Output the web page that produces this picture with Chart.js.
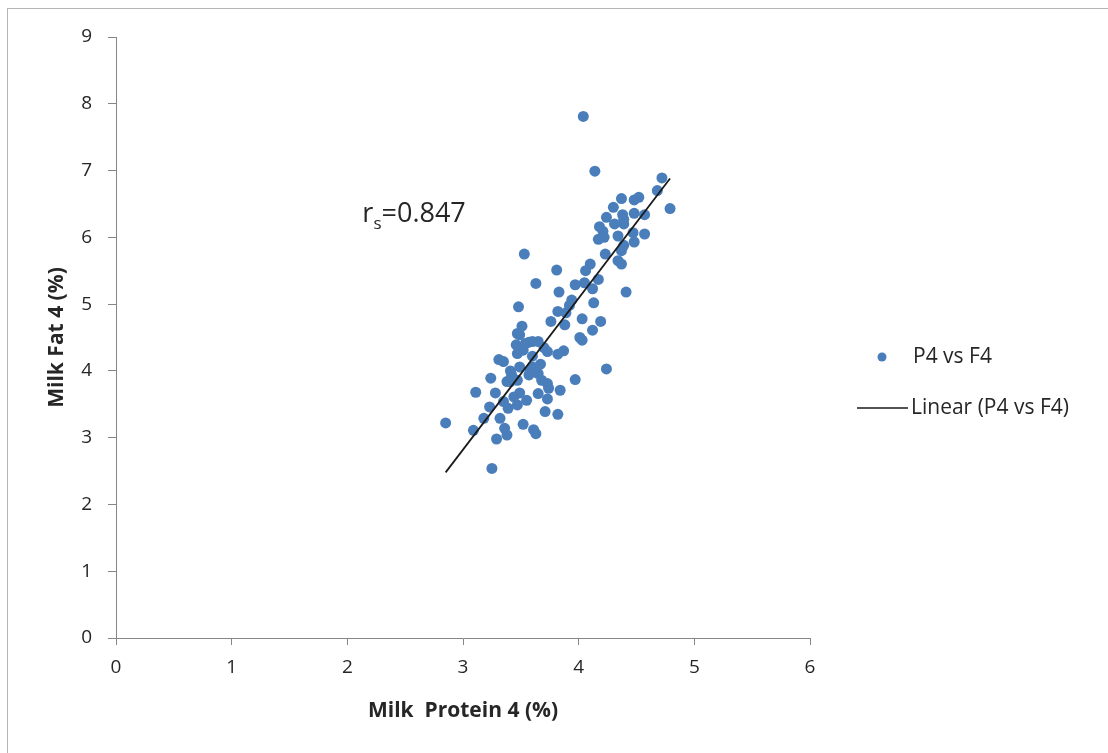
<!DOCTYPE html>
<html>
<head>
<meta charset="utf-8">
<title>Milk protein vs milk fat</title>
<script src="https://cdn.jsdelivr.net/npm/chart.js@4"></script>
<style>
  html, body { margin: 0; padding: 0; background: #fff; }
  #wrap { width: 1108px; height: 753px; position: relative; }
</style>
</head>
<body>
<div id="wrap"><canvas id="fatChart"></canvas></div>
<script>
// protein (%) and fat (%) per sample, same order in both arrays
const protein = [
  4.04, 4.14, 4.72, 4.68, 4.79, 4.37, 4.48, 4.52, 4.30, 4.24,
  4.38, 4.39, 4.48, 4.57, 4.31, 4.39, 4.18, 4.21, 4.17, 4.22,
  4.34, 4.47, 4.57, 4.48, 4.39, 4.37, 4.23, 4.34, 4.37, 4.10,
  4.06, 3.97, 4.05, 4.17, 3.53, 3.81, 3.63, 3.83, 4.12, 3.48,
  3.94, 3.92, 4.13, 3.82, 3.89, 3.88, 3.76, 4.03, 4.12, 4.01,
  4.03, 4.19, 4.41, 3.87, 3.82, 3.51, 3.47, 3.49, 3.46, 3.54,
  3.60, 3.65, 3.47, 3.52, 3.70, 3.73, 3.60, 3.31, 3.35, 3.49,
  3.41, 3.60, 3.67, 3.42, 3.57, 3.65, 3.38, 3.47, 3.68, 3.73,
  3.74, 3.24, 3.97, 3.84, 3.11, 3.28, 3.49, 3.44, 3.55, 3.65,
  3.73, 3.35, 3.39, 3.47, 3.23, 3.71, 3.82, 3.18, 3.32, 3.09,
  3.36, 3.52, 3.61, 3.38, 3.29, 3.63, 2.85, 3.25, 4.24, 3.57,
  3.58, 3.41
];
const fat = [
  7.81, 6.99, 6.89, 6.70, 6.43, 6.58, 6.56, 6.60, 6.45, 6.30,
  6.34, 6.27, 6.36, 6.34, 6.20, 6.20, 6.16, 6.09, 5.97, 6.00,
  6.02, 6.07, 6.05, 5.93, 5.88, 5.80, 5.75, 5.65, 5.60, 5.60,
  5.50, 5.29, 5.32, 5.37, 5.75, 5.51, 5.31, 5.18, 5.23, 4.96,
  5.06, 4.98, 5.02, 4.89, 4.87, 4.69, 4.74, 4.78, 4.61, 4.50,
  4.46, 4.74, 5.18, 4.30, 4.25, 4.67, 4.56, 4.54, 4.39, 4.41,
  4.44, 4.44, 4.26, 4.31, 4.35, 4.29, 4.22, 4.17, 4.14, 4.06,
  4.00, 4.06, 4.10, 3.94, 3.94, 3.96, 3.84, 3.86, 3.86, 3.81,
  3.74, 3.89, 3.87, 3.71, 3.68, 3.67, 3.67, 3.61, 3.56, 3.66,
  3.58, 3.54, 3.44, 3.49, 3.46, 3.39, 3.35, 3.29, 3.29, 3.11,
  3.14, 3.20, 3.12, 3.04, 2.98, 3.06, 3.22, 2.54, 4.03, 4.43,
  3.99, 3.84
];

// fitted line end points
const trendX = [2.85, 4.79];
const trendY = [2.48, 6.88];

const xTicks = [0, 1, 2, 3, 4, 5, 6];
const yTicks = [0, 1, 2, 3, 4, 5, 6, 7, 8, 9];

const seriesName = 'P4 vs F4';
const trendName = 'Linear (P4 vs F4)';
const rsValue = 0.847;

const FONT = '"Open Sans", "Liberation Sans", sans-serif';
const INK = '#262626';
const AXIS = '#868686';
const DOT = '#4a7ebb';

const extras = {
  id: 'extras',
  beforeDraw(chart) {
    const c = chart.ctx;
    c.save();
    c.strokeStyle = '#b5b5b5';
    c.lineWidth = 1;
    c.strokeRect(7.5, 8.5, 1300, 900);
    c.restore();
  },
  afterDraw(chart) {
    const { ctx, scales: { x, y } } = chart;
    ctx.save();
    ctx.fillStyle = INK;
    ctx.textBaseline = 'middle';
    ctx.textAlign = 'left';

    // Spearman annotation with subscript s
    let ax = x.getPixelForValue(2.13);
    const ay = y.getPixelForValue(6.35);
    ctx.font = '27px ' + FONT;
    ctx.fillText('r', ax, ay);
    ax += ctx.measureText('r').width;
    ctx.font = '17px ' + FONT;
    ctx.fillText('s', ax, ay + 10);
    ax += ctx.measureText('s').width;
    ctx.font = '27px ' + FONT;
    ctx.fillText('=' + rsValue.toFixed(3), ax, ay);

    // legend
    ctx.font = '21px ' + FONT;
    ctx.fillStyle = DOT;
    ctx.beginPath();
    ctx.arc(882, 357, 4.5, 0, Math.PI * 2);
    ctx.fill();
    ctx.fillStyle = INK;
    ctx.fillText(seriesName, 913, 357);

    ctx.strokeStyle = '#1a1a1a';
    ctx.lineWidth = 1.5;
    ctx.beginPath();
    ctx.moveTo(857, 408);
    ctx.lineTo(908, 408);
    ctx.stroke();
    ctx.fillText(trendName, 911, 408);
    ctx.restore();
  }
};

new Chart(document.getElementById('fatChart'), {
  type: 'scatter',
  data: {
    datasets: [
      {
        label: seriesName,
        data: protein.map((p, i) => ({ x: p, y: fat[i] })),
        backgroundColor: DOT,
        borderWidth: 0,
        pointRadius: 5.5,
        order: 2
      },
      {
        label: trendName,
        data: trendX.map((p, i) => ({ x: p, y: trendY[i] })),
        showLine: true,
        borderColor: '#1a1a1a',
        borderWidth: 1.8,
        pointRadius: 0,
        order: 1
      }
    ]
  },
  options: {
    responsive: true,
    maintainAspectRatio: false,
    animation: false,
    devicePixelRatio: 1,
    layout: { padding: { left: 0, top: 37, right: 298, bottom: 0 } },
    plugins: {
      legend: { display: false },
      tooltip: { enabled: false }
    },
    scales: {
      x: {
        type: 'linear',
        min: 0,
        max: 6,
        afterFit: s => { s.height = 115; },
        afterBuildTicks: s => { s.ticks = xTicks.map(v => ({ value: v })); },
        ticks: { color: INK, font: { family: FONT, size: 19 }, padding: 11 },
        grid: { drawOnChartArea: false, drawTicks: true, tickLength: 7, color: AXIS },
        border: { color: AXIS, width: 1 },
        title: {
          display: true,
          text: 'Milk  Protein 4 (%)',
          color: INK,
          font: { family: FONT, size: 21, weight: 'bold' },
          padding: { top: 0, bottom: 29 }
        }
      },
      y: {
        type: 'linear',
        min: 0,
        max: 9,
        afterFit: s => { s.width = 116; },
        afterBuildTicks: s => { s.ticks = yTicks.map(v => ({ value: v })); },
        ticks: { color: INK, font: { family: FONT, size: 19 }, padding: 16 },
        grid: { drawOnChartArea: false, drawTicks: true, tickLength: 8, color: AXIS },
        border: { color: AXIS, width: 1 },
        title: {
          display: true,
          text: 'Milk Fat 4 (%)',
          color: INK,
          font: { family: FONT, size: 21, weight: 'bold' },
          padding: { top: 44, bottom: 0 }
        }
      }
    }
  },
  plugins: [extras]
});
</script>
</body>
</html>
